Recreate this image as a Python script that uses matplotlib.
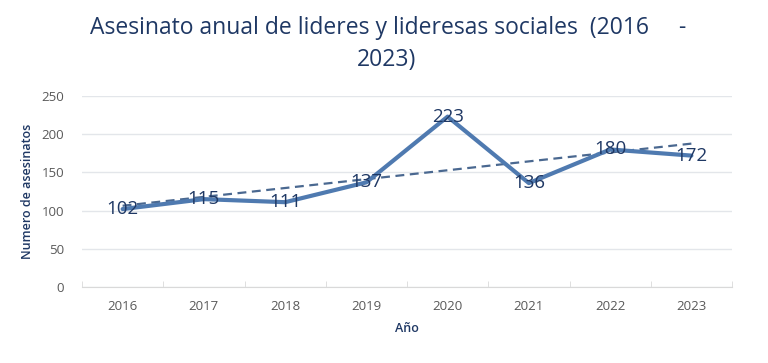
import numpy as np
import matplotlib.pyplot as plt

# Data
years = ["2016", "2017", "2018", "2019", "2020", "2021", "2022", "2023"]
asesinatos = [102, 115, 111, 137, 223, 136, 180, 172]
y_ticks = [0, 50, 100, 150, 200, 250]

plt.rcParams['font.family'] = ['Open Sans', 'DejaVu Sans']

fig = plt.figure(figsize=(7.68, 3.63), dpi=100)
ax = fig.add_axes([82/768, 1 - 287/363, 650/768, 191/363])

x = np.arange(len(years))
line_color = '#4f7ab0'
text_color = '#1f3864'

ax.plot(x, asesinatos, color=line_color, lw=3.0, solid_capstyle='round', zorder=3)

# linear trend line
coef = np.polyfit(x, asesinatos, 1)
ax.plot(x, np.polyval(coef, x), color='#4a6890', lw=1.6, ls=(0, (4, 2.5)), zorder=2)

for xi, v in zip(x, asesinatos):
    ax.text(xi, v, str(v), ha='center', va='center', fontsize=13.5,
            color=text_color, fontweight='medium', zorder=4)

ax.set_xlim(-0.5, len(years) - 0.5)
ax.set_ylim(0, 250)
ax.set_yticks(y_ticks)
ax.set_xticks(x)
ax.set_xticklabels(years)
ax.set_xticks(np.arange(-0.5, len(years)), minor=True)
ax.tick_params(axis='x', which='major', length=0, pad=9, labelsize=9.5, colors='#595959')
ax.tick_params(axis='x', which='minor', length=4, color='#d9d9d9', direction='in')
ax.tick_params(axis='y', length=0, pad=13, labelsize=9.5, colors='#595959')
ax.grid(axis='y', color='#e3e6ea', lw=1)
ax.set_axisbelow(True)
for s in ['top', 'right', 'left']:
    ax.spines[s].set_visible(False)
ax.spines['bottom'].set_color('#d9d9d9')

ax.set_ylabel("Numero de asesinatos", fontsize=9, color=text_color,
              fontweight='semibold', labelpad=5)
ax.set_xlabel("Año", fontsize=9, color=text_color, fontweight='semibold', labelpad=7)

fig.text(0.505, 1 - 28/363, "Asesinato anual de lideres y lideresas sociales  (2016     -",
         ha='center', va='center', fontsize=16.5, color=text_color)
fig.text(0.503, 1 - 60/363, "2023)", ha='center', va='center', fontsize=16.5, color=text_color)

fig.savefig("out.png", dpi=100)
